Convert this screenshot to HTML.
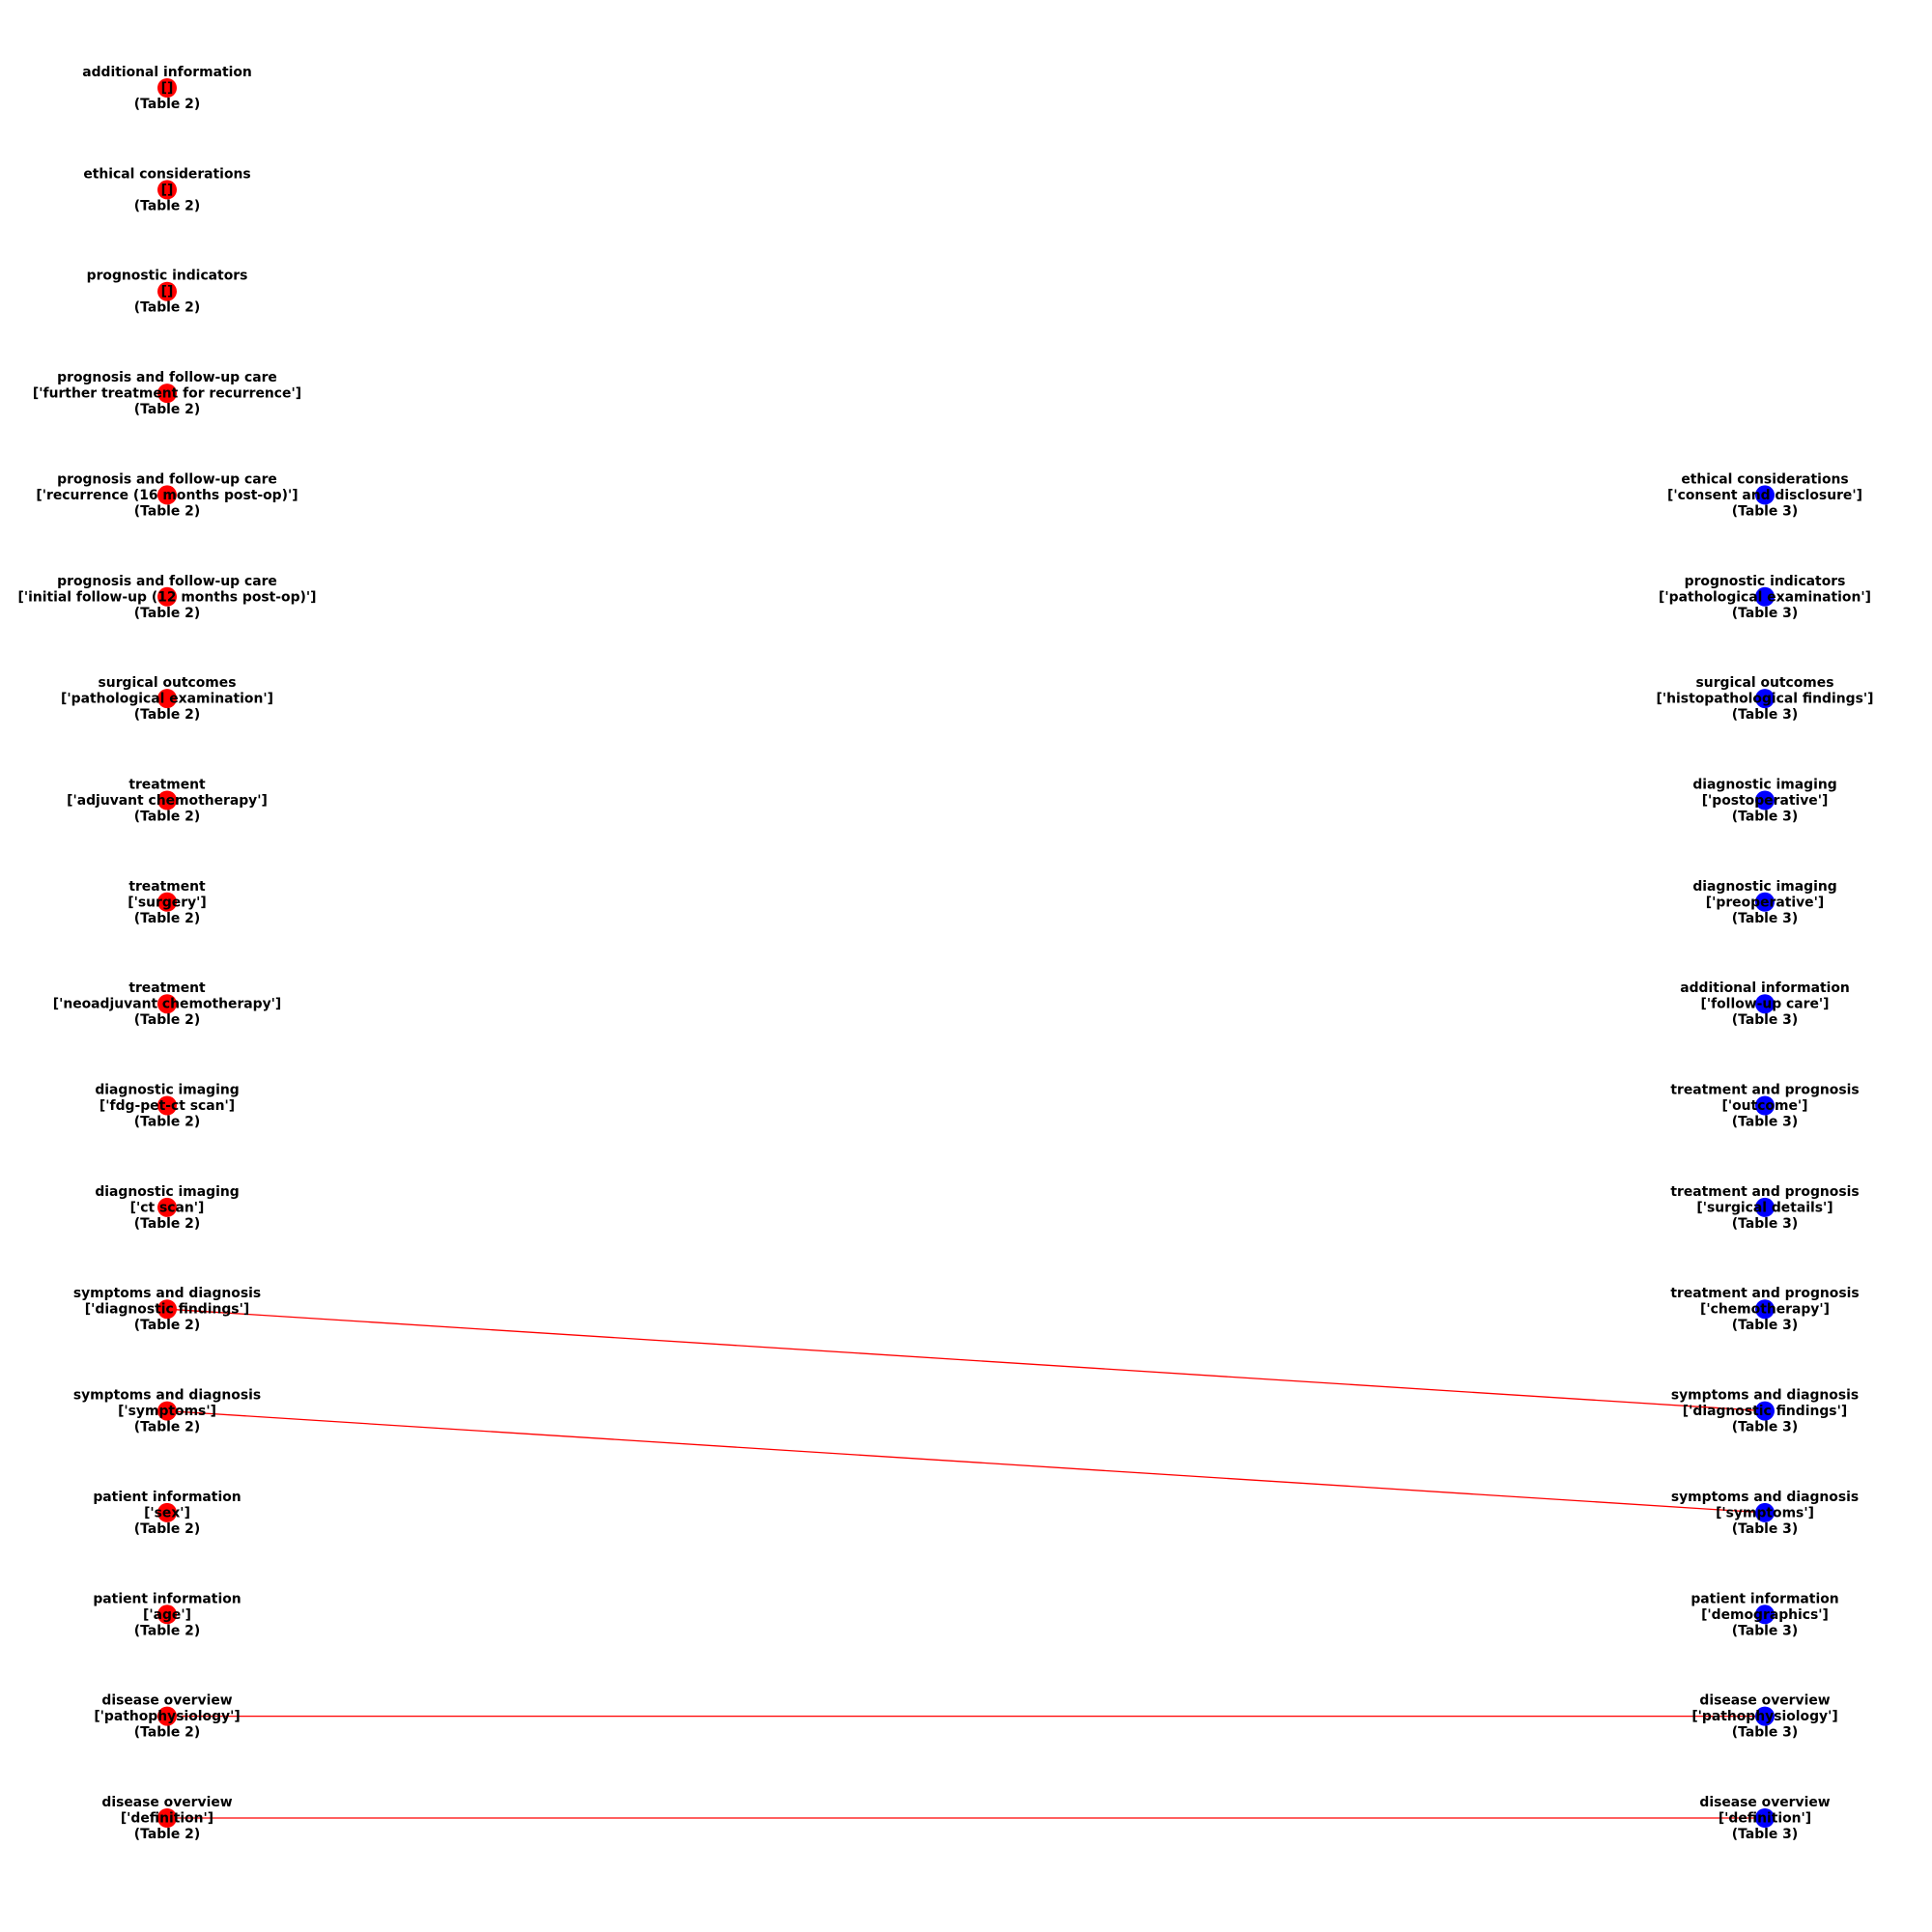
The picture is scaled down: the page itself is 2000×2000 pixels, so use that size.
<!DOCTYPE html>
<html><head><meta charset="utf-8"><style>
html,body{margin:0;padding:0;background:#fff;}
svg{display:block;}
text{font-family:"DejaVu Sans","Liberation Sans",sans-serif;font-weight:bold;font-size:13.9px;fill:#000;text-anchor:middle;}
</style></head><body>
<svg width="2000" height="2000" viewBox="0 0 2000 2000" xmlns="http://www.w3.org/2000/svg">
<g stroke="#ff0000" stroke-width="1.3">
<line x1="173" y1="1355.2" x2="1827" y2="1460.6"/>
<line x1="173" y1="1460.6" x2="1827" y2="1565.9"/>
<line x1="173" y1="1776.6" x2="1827" y2="1776.6"/>
<line x1="173" y1="1882" x2="1827" y2="1882"/>
</g>
<g fill="#ff0000">
<circle cx="173" cy="91" r="10"/><circle cx="173" cy="196.4" r="10"/><circle cx="173" cy="301.7" r="10"/><circle cx="173" cy="407.1" r="10"/><circle cx="173" cy="512.4" r="10"/><circle cx="173" cy="617.8" r="10"/><circle cx="173" cy="723.1" r="10"/><circle cx="173" cy="828.5" r="10"/><circle cx="173" cy="933.8" r="10"/><circle cx="173" cy="1039.2" r="10"/><circle cx="173" cy="1144.5" r="10"/><circle cx="173" cy="1249.9" r="10"/><circle cx="173" cy="1355.2" r="10"/><circle cx="173" cy="1460.6" r="10"/><circle cx="173" cy="1565.9" r="10"/><circle cx="173" cy="1671.3" r="10"/><circle cx="173" cy="1776.6" r="10"/><circle cx="173" cy="1882" r="10"/>
</g>
<g fill="#0000ff">
<circle cx="1827" cy="512.4" r="10"/><circle cx="1827" cy="617.8" r="10"/><circle cx="1827" cy="723.1" r="10"/><circle cx="1827" cy="828.5" r="10"/><circle cx="1827" cy="933.8" r="10"/><circle cx="1827" cy="1039.2" r="10"/><circle cx="1827" cy="1144.5" r="10"/><circle cx="1827" cy="1249.9" r="10"/><circle cx="1827" cy="1355.2" r="10"/><circle cx="1827" cy="1460.6" r="10"/><circle cx="1827" cy="1565.9" r="10"/><circle cx="1827" cy="1671.3" r="10"/><circle cx="1827" cy="1776.6" r="10"/><circle cx="1827" cy="1882" r="10"/>
</g>
<g>
<text x="173" y="79">additional information</text><text x="173" y="95.5">[]</text><text x="173" y="112">(Table 2)</text>
<text x="173" y="184.4">ethical considerations</text><text x="173" y="200.9">[]</text><text x="173" y="217.4">(Table 2)</text>
<text x="173" y="289.7">prognostic indicators</text><text x="173" y="306.2">[]</text><text x="173" y="322.7">(Table 2)</text>
<text x="173" y="395.1">prognosis and follow-up care</text><text x="173" y="411.6">['further treatment for recurrence']</text><text x="173" y="428.1">(Table 2)</text>
<text x="173" y="500.4">prognosis and follow-up care</text><text x="173" y="516.9">['recurrence (16 months post-op)']</text><text x="173" y="533.4">(Table 2)</text>
<text x="173" y="605.8">prognosis and follow-up care</text><text x="173" y="622.3">['initial follow-up (12 months post-op)']</text><text x="173" y="638.8">(Table 2)</text>
<text x="173" y="711.1">surgical outcomes</text><text x="173" y="727.6">['pathological examination']</text><text x="173" y="744.1">(Table 2)</text>
<text x="173" y="816.5">treatment</text><text x="173" y="833">['adjuvant chemotherapy']</text><text x="173" y="849.5">(Table 2)</text>
<text x="173" y="921.8">treatment</text><text x="173" y="938.3">['surgery']</text><text x="173" y="954.8">(Table 2)</text>
<text x="173" y="1027.2">treatment</text><text x="173" y="1043.7">['neoadjuvant chemotherapy']</text><text x="173" y="1060.2">(Table 2)</text>
<text x="173" y="1132.5">diagnostic imaging</text><text x="173" y="1149">['fdg-pet-ct scan']</text><text x="173" y="1165.5">(Table 2)</text>
<text x="173" y="1237.9">diagnostic imaging</text><text x="173" y="1254.4">['ct scan']</text><text x="173" y="1270.9">(Table 2)</text>
<text x="173" y="1343.2">symptoms and diagnosis</text><text x="173" y="1359.7">['diagnostic findings']</text><text x="173" y="1376.2">(Table 2)</text>
<text x="173" y="1448.6">symptoms and diagnosis</text><text x="173" y="1465.1">['symptoms']</text><text x="173" y="1481.6">(Table 2)</text>
<text x="173" y="1553.9">patient information</text><text x="173" y="1570.4">['sex']</text><text x="173" y="1586.9">(Table 2)</text>
<text x="173" y="1659.3">patient information</text><text x="173" y="1675.8">['age']</text><text x="173" y="1692.3">(Table 2)</text>
<text x="173" y="1764.6">disease overview</text><text x="173" y="1781.1">['pathophysiology']</text><text x="173" y="1797.6">(Table 2)</text>
<text x="173" y="1870">disease overview</text><text x="173" y="1886.5">['definition']</text><text x="173" y="1903">(Table 2)</text>

<text x="1827" y="500.4">ethical considerations</text><text x="1827" y="516.9">['consent and disclosure']</text><text x="1827" y="533.4">(Table 3)</text>
<text x="1827" y="605.8">prognostic indicators</text><text x="1827" y="622.3">['pathological examination']</text><text x="1827" y="638.8">(Table 3)</text>
<text x="1827" y="711.1">surgical outcomes</text><text x="1827" y="727.6">['histopathological findings']</text><text x="1827" y="744.1">(Table 3)</text>
<text x="1827" y="816.5">diagnostic imaging</text><text x="1827" y="833">['postoperative']</text><text x="1827" y="849.5">(Table 3)</text>
<text x="1827" y="921.8">diagnostic imaging</text><text x="1827" y="938.3">['preoperative']</text><text x="1827" y="954.8">(Table 3)</text>
<text x="1827" y="1027.2">additional information</text><text x="1827" y="1043.7">['follow-up care']</text><text x="1827" y="1060.2">(Table 3)</text>
<text x="1827" y="1132.5">treatment and prognosis</text><text x="1827" y="1149">['outcome']</text><text x="1827" y="1165.5">(Table 3)</text>
<text x="1827" y="1237.9">treatment and prognosis</text><text x="1827" y="1254.4">['surgical details']</text><text x="1827" y="1270.9">(Table 3)</text>
<text x="1827" y="1343.2">treatment and prognosis</text><text x="1827" y="1359.7">['chemotherapy']</text><text x="1827" y="1376.2">(Table 3)</text>
<text x="1827" y="1448.6">symptoms and diagnosis</text><text x="1827" y="1465.1">['diagnostic findings']</text><text x="1827" y="1481.6">(Table 3)</text>
<text x="1827" y="1553.9">symptoms and diagnosis</text><text x="1827" y="1570.4">['symptoms']</text><text x="1827" y="1586.9">(Table 3)</text>
<text x="1827" y="1659.3">patient information</text><text x="1827" y="1675.8">['demographics']</text><text x="1827" y="1692.3">(Table 3)</text>
<text x="1827" y="1764.6">disease overview</text><text x="1827" y="1781.1">['pathophysiology']</text><text x="1827" y="1797.6">(Table 3)</text>
<text x="1827" y="1870">disease overview</text><text x="1827" y="1886.5">['definition']</text><text x="1827" y="1903">(Table 3)</text>
</g>
</svg>
</body></html>
